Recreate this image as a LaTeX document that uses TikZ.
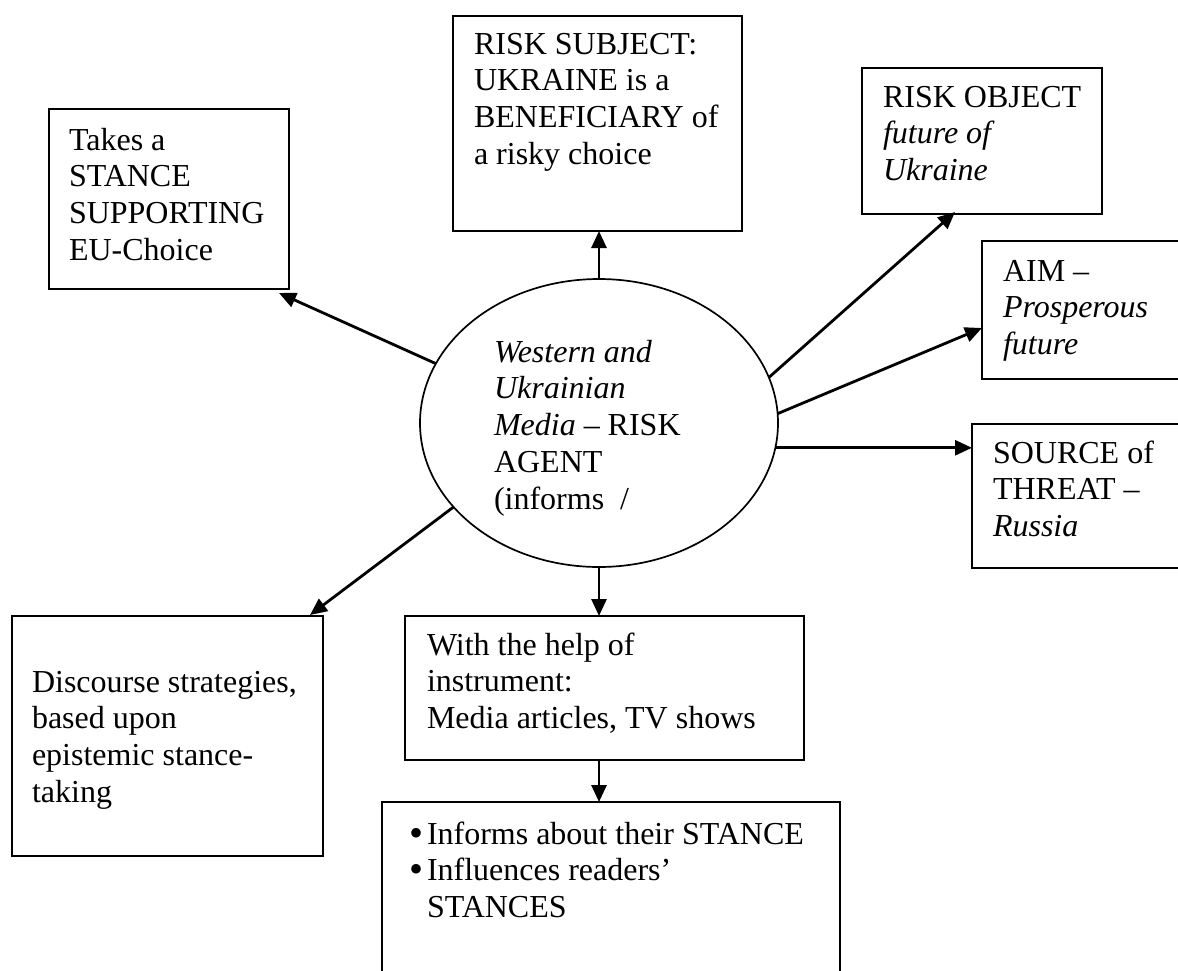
\documentclass[tikz,border=0pt]{standalone}
\usepackage{fontspec}
\setmainfont{Liberation Serif}
\usetikzlibrary{shapes.geometric,arrows.meta,calc}
\tikzset{
  box/.style={draw, line width=2pt, rectangle, inner sep=0pt, outer sep=0pt},
  agent/.style={draw, line width=1.7pt, ellipse, inner sep=0pt, outer sep=0pt},
  txt/.style={anchor=base west, inner sep=0pt, outer sep=0pt, font=\fontsize{32}{36.8}\selectfont},
  arr/.style={line width=2.8pt, -{Triangle[length=17pt,width=15pt]}},
}
\newcommand{\ml}[1]{\begin{tabular}[t]{@{}l@{}}#1\end{tabular}}
\newcommand{\blt}{\makebox[18pt][l]{\raisebox{-2pt}{\fontsize{40}{40}\selectfont •}}}
\begin{document}
\begin{tikzpicture}[x=1pt,y=-1pt]
\useasboundingbox (0,0) rectangle (1178,970);
\clip (0,0) rectangle (1178,970);
\fill[white] (0,0) rectangle (1178,970);
% boxes
\node[box, minimum width=240pt, minimum height=180pt] (b1) at (169,199) {};
\node[box, minimum width=289pt, minimum height=215pt] (b2) at (597.5,123.5) {};
\node[box, minimum width=240pt, minimum height=146pt] (b3) at (982,141) {};
\node[box, minimum width=208pt, minimum height=138pt] (b4) at (1086,310) {};
\node[box, minimum width=218pt, minimum height=144pt] (b5) at (1081,496) {};
\node[box, minimum width=311pt, minimum height=240pt] (b6) at (167.5,736) {};
\node[box, minimum width=399pt, minimum height=144pt] (b7) at (604.5,688) {};
\node[box, minimum width=458pt, minimum height=198pt] (b8) at (611,901) {};
\node[agent, minimum width=358pt, minimum height=288pt] (ag) at (599,423) {};
% texts
\node[txt] (t1) at (69,150) {\ml{Takes a\\STANCE\\SUPPORTING\\EU-Choice}};
\node[txt] (t2) at (474,54) {\ml{RISK SUBJECT:\\UKRAINE is a\\BENEFICIARY of\\a risky choice}};
\node[txt] (t3) at (883,107) {\ml{RISK OBJECT\\\textit{future of}\\\textit{Ukraine}}};
\node[txt] (t4) at (1003,281) {\ml{AIM –\\\textit{Prosperous}\\\textit{future}}};
\node[txt] (t5) at (993,463) {\ml{SOURCE of\\THREAT –\\\textit{Russia}}};
\node[txt] (t6) at (32,692) {\ml{Discourse strategies,\\based upon\\epistemic stance-\\taking}};
\node[txt] (t7) at (427,655) {\ml{With the help of\\instrument:\\Media articles, TV shows}};
\node[txt] (t8) at (409,844) {\begin{tabular}[t]{@{}l@{}l@{}}\blt&Informs about their STANCE\\\blt&Influences readers’\\&STANCES\end{tabular}};
\node[txt] (tag) at (494,362) {\ml{\textit{Western and}\\\textit{Ukrainian}\\\textit{Media} – RISK\\AGENT\\(informs\ \ /}};
% connectors
\draw[arr] (ag.160.5) -- ($(b1.south east)+(-10,4)$);
\draw[arr] (ag.north) -- (ag.north |- b2.south);
\draw[arr] (ag.15) -- ($(b3.south west)+(93,-2)$);
\draw[arr] (ag.3.5) -- ($(b4.west)+(0,18)$);
\draw[arr] (ag.-8) -- (ag.-8 -| b5.west);
\draw[arr] (ag.210) -- ($(b6.north east)+(-13,-1)$);
\draw[arr] (ag.south) -- (ag.south |- b7.north);
\draw[arr] (ag.south |- b7.south) -- (ag.south |- b8.north);
\end{tikzpicture}
\end{document}
